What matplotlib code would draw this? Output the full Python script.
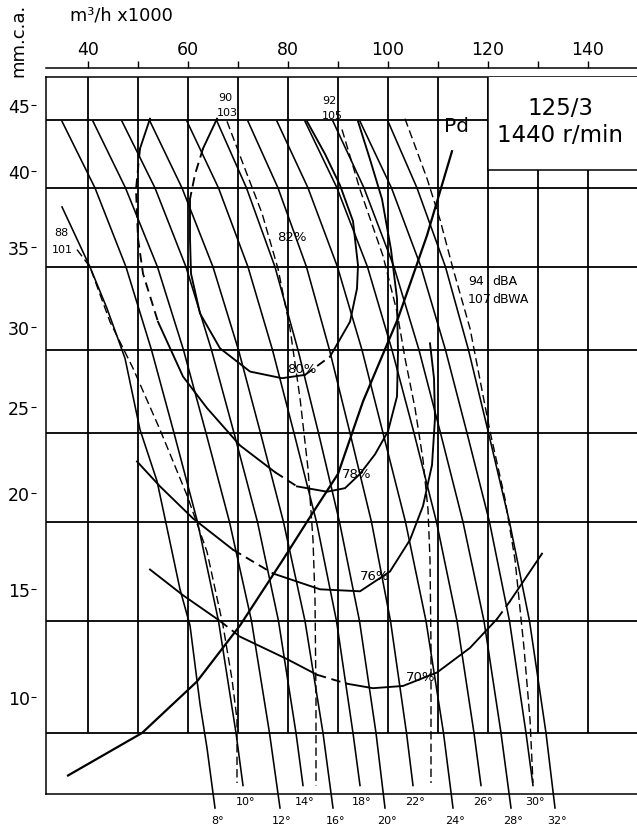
import matplotlib
matplotlib.use("Agg")
import matplotlib.pyplot as plt
from matplotlib.patches import Rectangle
import numpy as np

# ---- axes (flow in m3/h x1000, pressure in mm.c.a.) ----
q_ticks = [40, 50, 60, 70, 80, 90, 100, 110, 120, 130, 140]
p_ticks = [10, 15, 20, 25, 30, 35, 40, 45]

# ---- blade-angle curves ----
angles = [8, 10, 12, 14, 16, 18, 20, 22, 24, 26, 28, 30, 32]
p_short = [44.9, 40, 35, 30, 25, 20, 15, 10, 7.9]
p_long = [44.9, 40, 35, 30, 25, 20, 15, 10, 7.0]
p_8 = [38.8, 35.0, 32.5, 29.5, 25.2, 22.3, 19.7, 16.6, 14.8, 11.3, 9.4, 7.0]
q_8 = [34.8, 40.4, 43.8, 47.4, 50.4, 53.8, 55.8, 58.4, 60.4, 62.4, 63.8, 65.4]
blade_q = {
    10: [34.8, 41.4, 47.6, 52.7, 57.2, 61.9, 66.1, 69.6, 71.0],
    12: [41.0, 47.5, 53.9, 59.1, 63.6, 68.3, 72.7, 76.3, 78.4],
    14: [46.8, 53.4, 59.6, 64.7, 69.2, 73.9, 78.1, 81.6, 83.0],
    16: [52.4, 58.8, 65.0, 70.1, 74.5, 79.1, 83.4, 87.0, 89.0],
    18: [59.8, 66.1, 72.0, 76.9, 81.2, 85.7, 89.7, 93.0, 94.4],
    20: [65.8, 71.7, 77.4, 82.0, 86.1, 90.3, 94.3, 97.6, 99.4],
    22: [72.0, 78.0, 83.7, 88.3, 92.4, 96.7, 100.5, 103.7, 105.0],
    24: [77.8, 84.0, 89.9, 94.8, 99.0, 103.5, 107.6, 111.1, 113.0],
    26: [83.4, 89.8, 95.9, 100.8, 105.2, 109.7, 113.8, 117.2, 118.6],
    28: [89.0, 95.2, 101.2, 106.2, 110.5, 115.0, 119.2, 122.6, 124.6],
    30: [94.4, 100.7, 106.6, 111.5, 115.8, 120.3, 124.3, 127.6, 129.0],
    32: [100.0, 105.8, 111.5, 116.1, 120.1, 124.3, 128.3, 131.6, 133.4],
}

# ---- sound level lines (dBA / dBWA) ----
db_q = [
    [37.8, 40.4, 44.4, 49.0, 54.4, 59.8, 63.8, 67.0, 68.8, 69.8, 69.8],
    [67.8, 71.4, 74.8, 78.0, 80.4, 82.4, 84.0, 85.0, 85.4, 85.6, 85.6],
    [90.8, 94.4, 99.0, 101.8, 103.4, 105.4, 107.0, 108.0, 108.4, 108.6, 108.6],
    [103.4, 107.8, 110.4, 113.0, 116.4, 120.4, 123.4, 125.4, 127.2, 128.4, 129.0],
]
db_p = [
    [36.1, 35.0, 31.7, 28.9, 25.2, 21.5, 18.5, 14.8, 12.4, 10.6, 8.0],
    [44.9, 41.4, 38.4, 34.9, 31.3, 27.1, 23.0, 19.1, 16.1, 11.5, 7.9],
    [44.3, 39.9, 35.7, 32.3, 29.5, 26.5, 23.5, 20.7, 18.1, 13.8, 8.0],
    [45.1, 40.7, 38.0, 34.9, 31.3, 25.1, 21.3, 18.1, 13.8, 10.6, 8.0],
]

# ---- efficiency curves ----
eff_labels = ["80%", "78%", "76%", "70%"]
eff_q = [
    [65.8, 63.0, 61.4, 60.4, 60.4, 60.6, 62.4, 66.4, 72.4, 78.8, 83.4, 88.4,
     92.4, 93.8, 94.0, 93.0, 90.4, 87.4, 83.8],
    [52.4, 50.4, 49.6, 50.0, 51.0, 54.0, 59.0, 63.8, 70.4, 77.4, 81.8, 87.8,
     91.4, 94.4, 97.4, 100.0, 101.8, 102.0, 101.8, 100.6, 98.8, 96.4, 94.0],
    [49.8, 54.4, 61.0, 69.0, 77.0, 86.4, 94.4, 100.4, 104.4, 107.0, 108.8,
     109.4, 109.2, 108.4],
    [52.4, 59.0, 66.4, 70.4, 79.8, 85.8, 91.8, 97.0, 103.0, 109.8, 116.4,
     121.8, 124.4, 130.8],
]
eff_p = [
    [45.1, 42.9, 41.0, 39.3, 36.8, 34.6, 32.2, 30.1, 28.7, 28.3, 28.5, 29.6,
     31.7, 33.7, 35.1, 37.9, 40.2, 42.5, 44.9],
    [45.1, 42.9, 39.9, 36.8, 34.6, 31.7, 28.4, 26.5, 24.3, 22.8, 22.0, 21.7,
     21.9, 22.7, 23.8, 25.1, 27.2, 29.9, 33.1, 36.1, 39.3, 42.1, 44.9],
    [23.4, 22.0, 20.2, 18.6, 17.4, 16.6, 16.5, 17.5, 19.1, 20.9, 23.2, 25.9,
     28.3, 30.4],
    [17.6, 16.3, 15.0, 14.3, 13.3, 12.6, 12.2, 12.0, 12.1, 12.7, 13.8, 15.1,
     16.0, 18.4],
]
# index spans drawn broken (dashed) on each efficiency curve
eff_dashed = [[(1, 3), (10, 11)], [(1, 5), (9, 10)], [(3, 4)], [(2, 3), (5, 6), (11, 12)]]
eff_label_q = [82.8, 93.8, 97.4, 106.6]
eff_label_p = [28.9, 22.7, 17.3, 12.5]

# ---- dynamic pressure ----
pd_q = [36.0, 50.8, 61.8, 70.4, 79.0, 84.0, 90.0, 95.0, 102.0, 107.8, 112.8]
pd_p = [8.3, 10.0, 12.3, 14.8, 18.1, 20.1, 22.7, 26.9, 31.9, 37.0, 42.7]

# printed pressure grid is not evenly spaced: spacing of the grid lines
grid_p = [0, 10, 15, 20, 25, 30, 35, 40, 45, 60]
grid_pos = [-984, -734, -622, -523, -434, -351, -268, -189, -121, 68]


def fwd(v):
    return np.interp(v, grid_p, grid_pos)


def inv(t):
    return np.interp(t, grid_pos, grid_p)


W, H = 637, 837
fig = plt.figure(figsize=(W / 100, H / 100), dpi=100)
ax = fig.add_axes([46 / W, 1 - 795 / H, 597 / W, 717 / H])
ax.set_yscale("function", functions=(fwd, inv))
ax.set_xlim(31.6, 151.0)
ax.set_ylim(7.56, 48.41)
ax.set_xticks([])
ax.set_yticks([])
ax.minorticks_off()
for s in ["top", "left", "bottom"]:
    ax.spines[s].set_linewidth(1.1)
ax.spines["right"].set_visible(False)

K = "black"
GLW = 1.3
# grid
ax.vlines(q_ticks[:9], 10, 48.41, color=K, lw=GLW, zorder=1)
ax.vlines(q_ticks[9:], 10, 41.3, color=K, lw=GLW, zorder=1)
ax.hlines(p_ticks[:-1], 31.6, 151.0, color=K, lw=GLW, zorder=1)
ax.hlines(45, 31.6, 120, color=K, lw=GLW, zorder=1)
ax.add_patch(Rectangle((120, 41.3), 40, 10, facecolor="white",
                       edgecolor=K, lw=1.1, zorder=4))
ax.text(134.4, 46.0, "125/3", ha="center", va="center", fontsize=16.5, zorder=5)
ax.text(134.4, 43.95, "1440 r/min", ha="center", va="center", fontsize=16.5,
        zorder=5)

# blade curves
BLW = 1.15
ax.plot(q_8, p_8, color=K, lw=BLW, clip_on=False, zorder=2)
ends = {8: (q_8[-1], p_8[-1])}
for a in angles[1:]:
    pp = p_short if a % 4 == 2 else p_long
    ax.plot(blade_q[a], pp, color=K, lw=BLW, clip_on=False, zorder=2)
    ends[a] = (blade_q[a][-1], pp[-1])
for a in angles:
    off = -11.5 if a % 4 == 2 else -8.6
    ax.annotate(f"{a}°", xy=ends[a], xytext=(1.5, off), textcoords="offset points",
                ha="center", va="center", fontsize=8, annotation_clip=False)

# sound lines
for q, p in zip(db_q, db_p):
    ax.plot(q, p, color=K, lw=1.0, ls=(0, (6, 3)), clip_on=False, zorder=2)
ax.text(34.6, 37.2, "88", fontsize=8, ha="center", va="center")
ax.text(34.8, 36.15, "101", fontsize=8, ha="center", va="center")
ax.text(67.4, 46.8, "90", fontsize=8, ha="center", va="center")
ax.text(67.8, 45.65, "103", fontsize=8, ha="center", va="center")
ax.text(88.2, 46.6, "92", fontsize=8, ha="center", va="center")
ax.text(88.8, 45.4, "105", fontsize=8, ha="center", va="center")
ax.text(116.0, 34.2, "94", fontsize=9, ha="left", va="center")
ax.text(120.8, 34.2, "dBA", fontsize=9, ha="left", va="center")
ax.text(116.0, 33.1, "107", fontsize=9, ha="left", va="center")
ax.text(120.8, 33.1, "dBWA", fontsize=9, ha="left", va="center")

# efficiency curves, solid with a few broken stretches
ELW = 1.35
for q, p, spans in zip(eff_q, eff_p, eff_dashed):
    cuts = [0]
    for i0, i1 in spans:
        cuts += [i0, i1]
    cuts.append(len(q) - 1)
    for k in range(len(cuts) - 1):
        i0, i1 = cuts[k], cuts[k + 1]
        if i1 <= i0:
            continue
        style = "-" if k % 2 == 0 else (0, (5, 3))
        ax.plot(q[i0:i1 + 1], p[i0:i1 + 1], color=K, lw=ELW, ls=style, zorder=2)
for lab, q, p in zip(eff_labels, eff_label_q, eff_label_p):
    ax.text(q, p, lab, fontsize=9.5, ha="center", va="center", zorder=3)
ax.text(80.8, 36.9, "82%", fontsize=9.5, ha="center", va="center", zorder=3)

# dynamic pressure
ax.plot(pd_q, pd_p, color=K, lw=1.6, clip_on=False, zorder=2)
ax.text(113.8, 44.6, "Pd", fontsize=14.5, ha="center", va="center")

# top flow axis
sec = ax.secondary_xaxis(1 + 9 / 717)
sec.set_xticks(q_ticks, labels=[str(v) if v % 20 == 0 else "" for v in q_ticks])
sec.tick_params(direction="out", length=5, width=1.0, labelsize=12.5, pad=2)
sec.spines["top"].set_linewidth(1.1)

# pressure labels (printed slightly offset from the grid)
lab = fig.add_axes([36 / W, 1 - 698 / H, 0.001, 592 / H])
lab.set_yscale("function", functions=(fwd, inv))
lab.set_ylim(10, 45)
lab.set_yticks(p_ticks)
lab.minorticks_off()
lab.set_xticks([])
lab.patch.set_visible(False)
for s in lab.spines.values():
    s.set_visible(False)
lab.tick_params(axis="y", direction="out", length=3.5, width=0.8, pad=1,
                labelsize=12.5)

fig.text(70 / W, 1 - 16 / H, "m³/h x1000", fontsize=12.8, ha="left", va="center")
fig.text(18 / W, 1 - 40 / H, "mm.c.a.", fontsize=13, rotation=90,
         ha="center", va="center")

fig.savefig("out.png", dpi=100)
